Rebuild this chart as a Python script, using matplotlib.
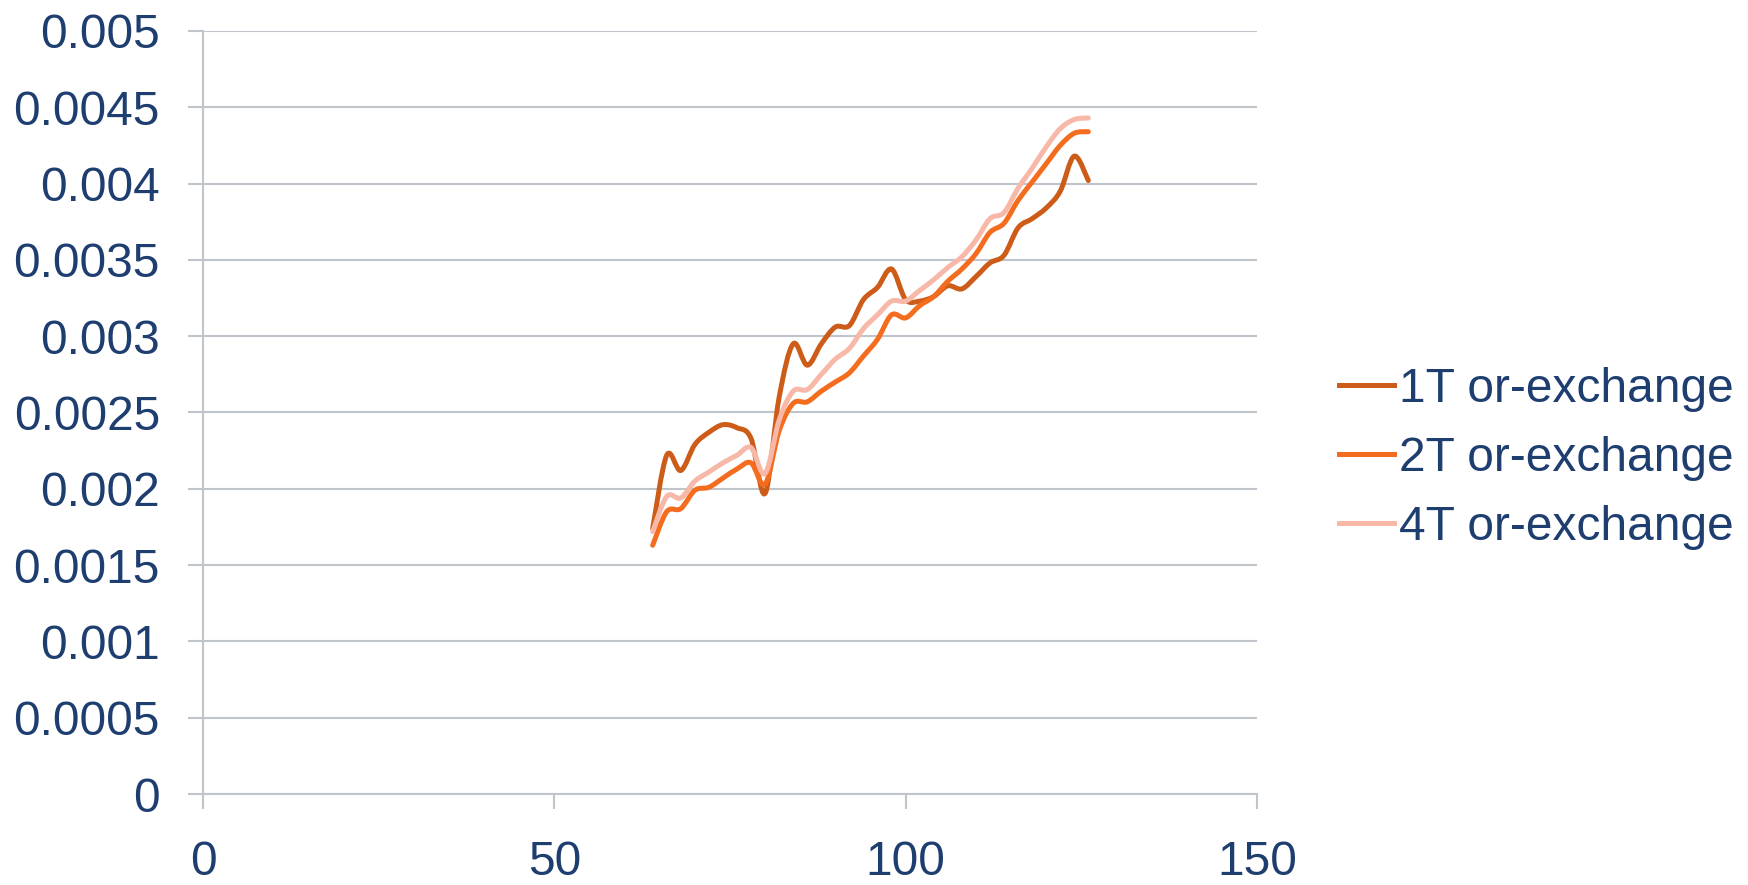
import matplotlib
matplotlib.use("Agg")
import matplotlib.pyplot as plt
from matplotlib.path import Path
from matplotlib.patches import PathPatch
from matplotlib.lines import Line2D
import numpy as np

# Sample positions and measured values for each run
x_vals = [64, 66, 68, 70, 72, 74, 76, 78, 80, 82, 84, 86, 88, 90, 92, 94,
          96, 98, 100, 102, 104, 106, 108, 110, 112, 114, 116, 118, 120, 122, 124, 126]

t1_vals = [0.00174, 0.00222, 0.00212, 0.00229, 0.00237, 0.00242, 0.00240, 0.00233,
           0.00197, 0.00260, 0.00295, 0.00281, 0.00295, 0.00306, 0.00307, 0.00324,
           0.00332, 0.00344, 0.00324, 0.00323, 0.00326, 0.00333, 0.00331, 0.00339,
           0.00348, 0.00353, 0.00371, 0.00377, 0.00384, 0.00395, 0.00418, 0.00402]

t2_vals = [0.00163, 0.00185, 0.00187, 0.00199, 0.00201, 0.00207, 0.00213, 0.00217,
           0.00203, 0.00238, 0.00256, 0.00257, 0.00264, 0.00270, 0.00276, 0.00287,
           0.00298, 0.00314, 0.00312, 0.00320, 0.00326, 0.00336, 0.00344, 0.00354,
           0.00368, 0.00374, 0.00389, 0.00401, 0.00413, 0.00425, 0.00433, 0.00434]

t4_vals = [0.00172, 0.00195, 0.00194, 0.00205, 0.00211, 0.00217, 0.00222, 0.00227,
           0.00210, 0.00245, 0.00264, 0.00265, 0.00275, 0.00285, 0.00292, 0.00305,
           0.00314, 0.00323, 0.00323, 0.00330, 0.00337, 0.00345, 0.00352, 0.00363,
           0.00377, 0.00381, 0.00397, 0.00410, 0.00424, 0.00436, 0.00442, 0.00443]

series_labels = ["1T or-exchange", "2T or-exchange", "4T or-exchange"]
series_colors = ["#CC5C18", "#F46D1E", "#F7B8A8"]

x_ticks = [0, 50, 100, 150]
y_ticks = [0, 0.0005, 0.001, 0.0015, 0.002, 0.0025, 0.003, 0.0035, 0.004, 0.0045, 0.005]
y_tick_labels = ["0", "0.0005", "0.001", "0.0015", "0.002", "0.0025",
                 "0.003", "0.0035", "0.004", "0.0045", "0.005"]

TEXT = "#1F3E70"
GRID = "#C0C4CB"
FS = 34.5

plt.rcParams["font.family"] = ["Liberation Sans", "DejaVu Sans"]


def smooth_path(xs, ys):
    """Cubic Bezier path through the points (Catmull-Rom style tangents)."""
    pts = np.column_stack([xs, ys]).astype(float)
    n = len(pts)
    verts = [pts[0]]
    codes = [Path.MOVETO]
    for i in range(n - 1):
        p0 = pts[i - 1] if i > 0 else pts[i]
        p1 = pts[i]
        p2 = pts[i + 1]
        p3 = pts[i + 2] if i + 2 < n else pts[i + 1]
        c1 = p1 + (p2 - p0) / 6.0
        c2 = p2 - (p3 - p1) / 6.0
        verts += [c1, c2, p2]
        codes += [Path.CURVE4] * 3
    return Path(verts, codes)


fig = plt.figure(figsize=(17.48, 8.85), dpi=100)
ax = fig.add_axes([0.1161, 0.1028, 0.6030, 0.8622])

handles = []
for ys, lab, col in zip([t1_vals, t2_vals, t4_vals], series_labels, series_colors):
    patch = PathPatch(smooth_path(x_vals, ys), facecolor="none", edgecolor=col,
                      linewidth=3.6, capstyle="round", joinstyle="round", zorder=3)
    ax.add_patch(patch)
    handles.append(Line2D([], [], color=col, linewidth=3.6, label=lab))

ax.set_xlim(0, 150)
ax.set_ylim(0, 0.005)
ax.set_xticks(x_ticks)
ax.set_xticklabels([str(v) for v in x_ticks])
ax.set_yticks(y_ticks)
ax.set_yticklabels(y_tick_labels)

ax.grid(axis="y", color=GRID, linewidth=1.5, zorder=1)
ax.set_axisbelow(True)
for side in ["top", "right"]:
    ax.spines[side].set_visible(False)
for side in ["left", "bottom"]:
    ax.spines[side].set_color(GRID)
    ax.spines[side].set_linewidth(1.5)

ax.tick_params(axis="x", direction="out", length=11, width=1.5, color=GRID,
               labelsize=FS, labelcolor=TEXT, pad=22)
ax.tick_params(axis="y", direction="out", length=11, width=1.5, color=GRID,
               labelsize=FS, labelcolor=TEXT, pad=20)

leg = fig.legend(handles=handles, loc="center left", bbox_to_anchor=(0.755, 0.482),
                 frameon=False, fontsize=FS, handlelength=1.15, handletextpad=0.1,
                 labelspacing=0.5, borderaxespad=0)
for t in leg.get_texts():
    t.set_color(TEXT)

fig.savefig("out.png", dpi=100)
